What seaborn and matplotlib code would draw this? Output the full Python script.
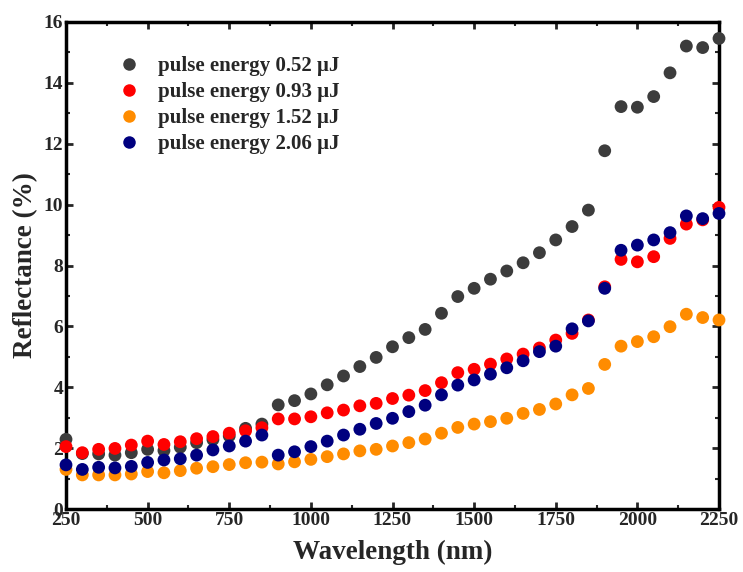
import numpy as np
import pandas as pd
import matplotlib
matplotlib.use("Agg")
import matplotlib.pyplot as plt
import seaborn as sns

wavelength = list(range(250, 2251, 50))

r_052 = [2.29, 1.82, 1.81, 1.77, 1.85, 1.96, 1.92, 2.03, 2.18, 2.28, 2.40, 2.65, 2.79,
         3.42, 3.56, 3.78, 4.08, 4.37, 4.68, 4.98,
         5.33, 5.63, 5.90, 6.43, 6.98, 7.25, 7.55, 7.82, 8.09, 8.42, 8.84, 9.28, 9.82,
         11.77, 13.22, 13.20, 13.55, 14.33, 15.21, 15.16, 15.46]
r_093 = [2.05, 1.85, 1.96, 1.99, 2.10, 2.23, 2.12, 2.21, 2.31, 2.38, 2.49, 2.57, 2.67,
         2.96, 2.96, 3.03, 3.16, 3.25, 3.39, 3.47,
         3.63, 3.74, 3.89, 4.15, 4.48, 4.59, 4.76, 4.93, 5.09, 5.29, 5.55, 5.77, 6.21,
         7.30, 8.20, 8.12, 8.29, 8.89, 9.36, 9.50, 9.91]
r_152 = [1.30, 1.12, 1.12, 1.12, 1.15, 1.23, 1.19, 1.26, 1.34, 1.39, 1.46, 1.52, 1.54,
         1.48, 1.55, 1.63, 1.72, 1.81, 1.91, 1.96,
         2.07, 2.18, 2.30, 2.49, 2.68, 2.79, 2.87, 2.98, 3.14, 3.27, 3.45, 3.75, 3.96,
         4.75, 5.35, 5.50, 5.66, 5.99, 6.40, 6.29, 6.21]
r_206 = [1.45, 1.30, 1.37, 1.35, 1.40, 1.53, 1.61, 1.65, 1.77, 1.94, 2.07, 2.23, 2.43,
         1.77, 1.88, 2.05, 2.23, 2.43, 2.62, 2.81,
         2.98, 3.20, 3.41, 3.75, 4.07, 4.24, 4.43, 4.64, 4.87, 5.17, 5.35, 5.92, 6.18,
         7.25, 8.50, 8.67, 8.84, 9.08, 9.63, 9.54, 9.71]

labels = ["pulse energy 0.52 \u03bcJ", "pulse energy 0.93 \u03bcJ",
          "pulse energy 1.52 \u03bcJ", "pulse energy 2.06 \u03bcJ"]
colors = ["#3c3c3c", "#ff0000", "#ff8c00", "#00007f"]
series = [r_052, r_093, r_152, r_206]

df = pd.concat([pd.DataFrame({"Wavelength": wavelength, "Reflectance": s, "series": lab})
                for s, lab in zip(series, labels)], ignore_index=True)

sns.set_theme(style="white")
plt.rcParams["font.family"] = ["Liberation Serif", "DejaVu Serif"]
plt.rcParams["font.weight"] = "bold"

fig = plt.figure(figsize=(7.43, 5.72), dpi=100)
ax = fig.add_axes([66/743, 63/572, (719-66)/743, (509-22)/572])

sns.scatterplot(data=df, x="Wavelength", y="Reflectance", hue="series",
                palette=dict(zip(labels, colors)), s=85, edgecolor=None,
                linewidth=0, ax=ax, legend=False, clip_on=False, zorder=3)

ax.set_xlim(250, 2250)
ax.set_ylim(0, 16)
ax.set_xticks(range(250, 2251, 250))
ax.set_xticks(range(375, 2251, 250), minor=True)
ax.set_yticks(range(0, 17, 2))
ax.set_yticks(range(1, 16, 2), minor=True)
ax.tick_params(axis="both", which="major", direction="in", length=5, width=2,
               labelsize=14, pad=2, top=True, right=True, bottom=True, left=True)
ax.tick_params(axis="both", which="minor", direction="in", length=3, width=1.5,
               top=True, right=True, bottom=True, left=True)
for lab in ax.get_xticklabels() + ax.get_yticklabels():
    lab.set_fontweight("bold")
for sp in ax.spines.values():
    sp.set_linewidth(2.5)
    sp.set_color("black")

ax.set_xlabel("Wavelength (nm)", fontsize=19.5, fontweight="bold", labelpad=8)
ax.set_ylabel("Reflectance (%)", fontsize=19.5, fontweight="bold", labelpad=4)

handles = [plt.Line2D([], [], marker="o", linestyle="none", markersize=9,
                      markerfacecolor=c, markeredgewidth=0) for c in colors]
leg = ax.legend(handles, labels, loc="upper left", bbox_to_anchor=(0.042, 0.968),
                frameon=False, prop={"weight": "bold", "size": 15},
                handlelength=1.6, handletextpad=0.61, labelspacing=0.28)

fig.savefig("out.png", dpi=100)
